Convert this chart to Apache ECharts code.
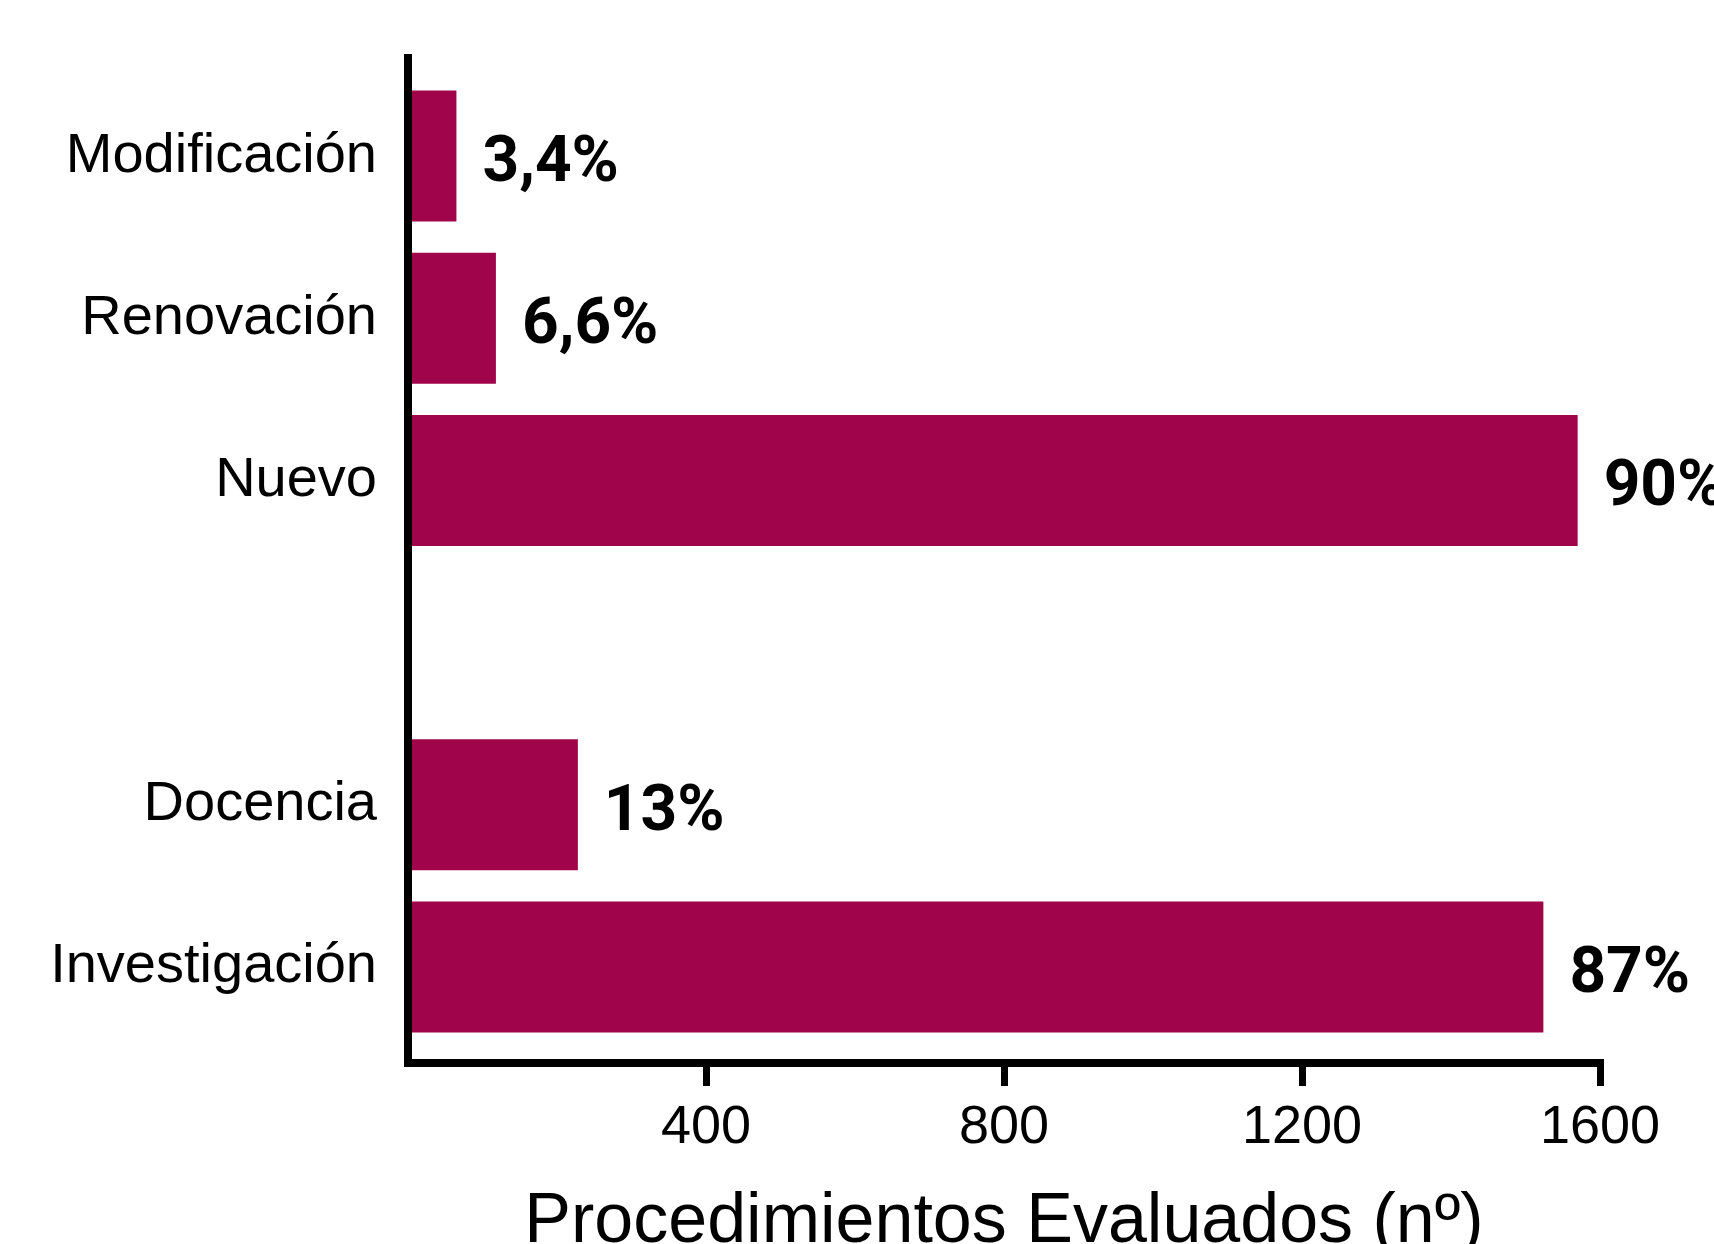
<!DOCTYPE html>
<html>
<head>
<meta charset="utf-8">
<script src="https://cdn.jsdelivr.net/npm/echarts@6/dist/echarts.min.js"></script>
<style>
html,body{margin:0;padding:0;background:#fff;}
#chart{width:1714px;height:1244px;}
</style>
</head>
<body>
<div id="chart"></div>
<script>
// Categories, top to bottom (empty slot separates the two groups)
var categories = ['Modificación', 'Renovación', 'Nuevo', '', 'Docencia', 'Investigación'];
// Procedures evaluated (n)
var values = [65, 118, 1570, null, 228, 1524];
// Percentage labels shown next to bars
var pctLabels = ['3,4%', '6,6%', '90%', '', '13%', '87%'];
// X axis ticks
var xTicks = [400, 800, 1200, 1600];
var xMin = 0, xMax = 1600;
var xTitle = 'Procedimientos Evaluados (nº)';

var chart = echarts.init(document.getElementById('chart'));
var axisStyle = {color: '#000', width: 8, cap: 'square'};
chart.setOption({
  backgroundColor: '#fff',
  animation: false,
  grid: [
    {left: 408, right: 114, top: 75, height: 973, outerBoundsMode: 'none', containLabel: false},
    {left: 408, right: 114, top: 58, bottom: 1244 - 1063, z: 5, outerBoundsMode: 'none', containLabel: false}
  ],
  xAxis: [
    {gridIndex: 0, type: 'value', min: xMin, max: xMax, show: false},
    {gridIndex: 1, type: 'value', min: xMin, max: xMax, interval: 400, z: 5,
      axisLine: {show: true, lineStyle: axisStyle},
      axisTick: {show: true, length: 23, customValues: xTicks,
        lineStyle: {color: '#000', width: 7}},
      axisLabel: {show: true, customValues: xTicks, margin: 38,
        formatter: function (v) { return String(v); },
        fontFamily: 'Liberation Sans, Arial, sans-serif', fontSize: 54, color: '#000'},
      splitLine: {show: false},
      name: xTitle, nameLocation: 'middle', nameGap: 125,
      nameTextStyle: {fontFamily: 'Liberation Sans, Arial, sans-serif', fontSize: 70, color: '#000'}
    }
  ],
  yAxis: [
    {gridIndex: 0, type: 'category', data: categories, inverse: true,
      axisLine: {show: false}, axisTick: {show: false},
      axisLabel: {margin: 31, padding: [5, 0, 0, 0],
        fontFamily: 'Liberation Sans, Arial, sans-serif', fontSize: 56, color: '#000'}
    },
    {gridIndex: 1, type: 'value', min: 0, max: 1, z: 5,
      axisLine: {show: true, lineStyle: axisStyle},
      axisTick: {show: false}, axisLabel: {show: false}, splitLine: {show: false}
    }
  ],
  series: [{
    type: 'bar',
    xAxisIndex: 0, yAxisIndex: 0,
    data: values,
    barWidth: 131,
    itemStyle: {color: '#A0044A'},
    label: {
      show: true, position: 'right', distance: 26, offset: [0, 9],
      formatter: function (p) { return pctLabels[p.dataIndex]; },
      fontFamily: 'Roboto, Liberation Sans, sans-serif',
      fontWeight: 'bold', fontSize: 64, color: '#000'
    }
  }]
});
</script>
</body>
</html>
